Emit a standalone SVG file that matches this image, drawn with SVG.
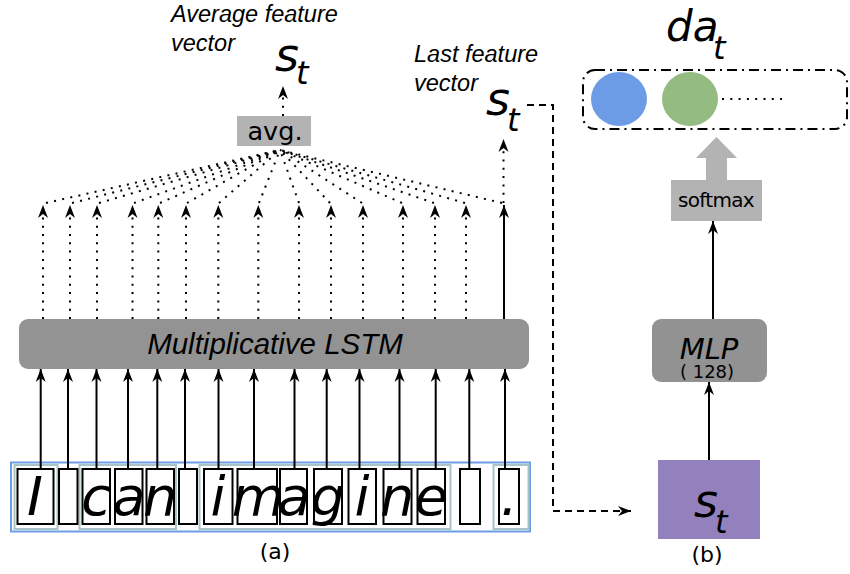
<svg xmlns="http://www.w3.org/2000/svg" width="850" height="574" viewBox="0 0 850 574">
  <style>
    .sans { font-family: "DejaVu Sans", "Noto Sans", sans-serif; }
    .ital { font-family: "Liberation Sans", Arial, sans-serif; font-style: italic; }
    .obl { font-family: "DejaVu Sans", "Noto Sans", sans-serif; font-style: italic; }
    .solid { stroke: #000; stroke-width: 2; fill: none; }
    .dot { stroke: #000; stroke-width: 2; fill: none; stroke-dasharray: 2 6.3; }
    .dash { stroke: #000; stroke-width: 2; fill: none; stroke-dasharray: 7 5; }
    .cell { fill: #fff; stroke: #000; stroke-width: 2; }
    .grp { fill: none; stroke: #a9c4c6; stroke-width: 2; }
    .letter { font-size: 54px; text-anchor: middle; }
  </style>
  <defs>
    <marker id="arr" markerUnits="userSpaceOnUse" markerWidth="16" markerHeight="12" viewBox="-14 -6 16 12" refX="0" refY="0" orient="auto">
      <path d="M0,0 L-13,-5 L-9,0 L-13,5 Z" fill="#000"/>
    </marker>
  </defs>

  <!-- character input strip -->
  <g id="input-text">
    <rect x="11" y="462.5" width="519" height="69" fill="none" stroke="#6d9de6" stroke-width="2"/>
    <rect class="grp" x="14.5" y="465" width="43" height="64"/>
    <rect class="grp" x="79.5" y="465" width="96.5" height="64"/>
    <rect class="grp" x="199.5" y="465" width="251" height="64"/>
    <rect class="grp" x="493.5" y="465" width="35" height="64"/>
    <rect class="cell" x="17.5" y="469" width="36" height="55"/>
    <rect class="cell" x="59" y="469" width="18.5" height="55"/>
    <rect class="cell" x="82.5" y="469" width="27.5" height="55"/>
    <rect class="cell" x="115" y="469" width="27.5" height="55"/>
    <rect class="cell" x="146.5" y="469" width="27.5" height="55"/>
    <rect class="cell" x="179" y="469" width="18" height="55"/>
    <rect class="cell" x="204" y="469" width="28.5" height="55"/>
    <rect class="cell" x="237.5" y="469" width="39.5" height="55"/>
    <rect class="cell" x="280" y="469" width="27" height="55"/>
    <rect class="cell" x="314" y="469" width="28" height="55"/>
    <rect class="cell" x="348.5" y="469" width="27.5" height="55"/>
    <rect class="cell" x="383.5" y="469" width="28" height="55"/>
    <rect class="cell" x="417.5" y="469" width="27.5" height="55"/>
    <rect class="cell" x="460" y="469" width="20" height="55"/>
    <rect class="cell" x="499" y="469" width="20" height="55"/>
    <g class="obl letter">
      <text x="35" y="515">I</text>
      <text x="96" y="515">c</text>
      <text x="129" y="515">a</text>
      <text x="160" y="515">n</text>
      <text x="218" y="515">i</text>
      <text x="258" y="515">m</text>
      <text x="294" y="515">a</text>
      <text x="328" y="515">g</text>
      <text x="362" y="515">i</text>
      <text x="397" y="515">n</text>
      <text x="431" y="515">e</text>
      <text x="509" y="515">.</text>
    </g>
    <text class="sans" x="275" y="559" font-size="22" text-anchor="middle">(a)</text>
  </g>

  <!-- recurrent encoder -->
  <g id="lstm">
    <rect x="19" y="319" width="510" height="50" rx="9" fill="#939393"/>
    <text class="ital" x="275" y="354" font-size="29.5" text-anchor="middle">Multiplicative LSTM</text>
  </g>

  <!-- pooled output -->
  <g id="avg">
    <rect x="237" y="116" width="74" height="30" fill="#b3b3b3"/>
    <text class="sans" x="275" y="140" font-size="25.5" text-anchor="middle">avg.</text>
  </g>
  <g id="avg-label">
    <text class="ital" x="171" y="22" font-size="23.5">Average feature</text>
    <text class="ital" x="171" y="51" font-size="23.5">vector</text>
    <text class="obl" x="275" y="71" font-size="46">s</text>
    <text class="obl" x="296" y="84" font-size="32">t</text>
  </g>
  <g id="last-label">
    <text class="ital" x="414" y="62" font-size="23.5">Last feature</text>
    <text class="ital" x="414" y="91" font-size="23.5">vector</text>
    <text class="obl" x="486" y="115" font-size="46">s</text>
    <text class="obl" x="507" y="131" font-size="32">t</text>
  </g>

  <!-- classifier branch -->
  <g id="state">
    <rect x="658" y="460" width="102" height="79" fill="#9381bd"/>
    <text class="obl" x="694" y="517" font-size="46">s</text>
    <text class="obl" x="715" y="533" font-size="32">t</text>
    <text class="sans" x="707" y="562" font-size="22" text-anchor="middle">(b)</text>
  </g>
  <g id="mlp">
    <rect x="652" y="319" width="115" height="63" rx="9" fill="#929292"/>
    <text class="obl" x="709" y="359" font-size="29" text-anchor="middle">MLP</text>
    <text class="sans" x="707" y="378" font-size="18" text-anchor="middle">( 128)</text>
  </g>
  <g id="softmax">
    <rect x="671" y="180" width="91" height="41" fill="#b3b3b3"/>
    <text class="sans" x="716" y="207" font-size="20" letter-spacing="-0.7" text-anchor="middle">softmax</text>
  </g>
  <g id="output">
    <text class="obl" x="666" y="41" font-size="42">da</text>
    <text class="obl" x="713" y="59" font-size="32">t</text>
    <rect x="583" y="70" width="264" height="59" rx="12" fill="none" stroke="#000" stroke-width="2" stroke-dasharray="10 5 2 5"/>
    <ellipse cx="619" cy="99" rx="28" ry="27" fill="#6d9ce6"/>
    <ellipse cx="690" cy="99" rx="28" ry="27" fill="#93bb82"/>
    <line class="dot" x1="722" y1="99" x2="782" y2="99" stroke-width="1.6" stroke-dasharray="1.6 7"/>
  </g>

  <!-- connectors -->
  <g id="connectors">
    <!-- characters into the LSTM -->
    <g class="solid" marker-end="url(#arr)">
      <line x1="40.7" y1="469" x2="40.7" y2="369"/>
      <line x1="68" y1="469" x2="68" y2="369"/>
      <line x1="96.5" y1="469" x2="96.5" y2="369"/>
      <line x1="128" y1="469" x2="128" y2="369"/>
      <line x1="157.3" y1="469" x2="157.3" y2="369"/>
      <line x1="185" y1="469" x2="185" y2="369"/>
      <line x1="218.5" y1="469" x2="218.5" y2="369"/>
      <line x1="254" y1="469" x2="254" y2="369"/>
      <line x1="294.5" y1="469" x2="294.5" y2="369"/>
      <line x1="326.7" y1="469" x2="326.7" y2="369"/>
      <line x1="359.5" y1="469" x2="359.5" y2="369"/>
      <line x1="399.5" y1="469" x2="399.5" y2="369"/>
      <line x1="435.7" y1="469" x2="435.7" y2="369"/>
      <line x1="469.3" y1="469" x2="469.3" y2="369"/>
      <line x1="505" y1="469" x2="505" y2="369"/>
    </g>
    <!-- hidden states out of the LSTM -->
    <g class="dot" marker-end="url(#arr)">
      <line x1="43" y1="319" x2="43" y2="205"/>
      <line x1="70" y1="319" x2="70" y2="205"/>
      <line x1="97" y1="319" x2="97" y2="205"/>
      <line x1="132.5" y1="319" x2="132.5" y2="205"/>
      <line x1="158.3" y1="319" x2="158.3" y2="205"/>
      <line x1="186" y1="319" x2="186" y2="205"/>
      <line x1="218.3" y1="319" x2="218.3" y2="205"/>
      <line x1="258.3" y1="319" x2="258.3" y2="205"/>
      <line x1="299" y1="319" x2="299" y2="205"/>
      <line x1="331" y1="319" x2="331" y2="205"/>
      <line x1="363" y1="319" x2="363" y2="205"/>
      <line x1="403" y1="319" x2="403" y2="205"/>
      <line x1="435" y1="319" x2="435" y2="205"/>
      <line x1="466" y1="319" x2="466" y2="205"/>
    </g>
    <line class="solid" x1="504" y1="319" x2="504" y2="205" marker-end="url(#arr)"/>
    <!-- fan-in to the average -->
    <g class="dot">
      <line x1="46" y1="203" x2="280" y2="150"/>
      <line x1="72" y1="203" x2="280" y2="150"/>
      <line x1="99" y1="203" x2="280" y2="150"/>
      <line x1="134" y1="203" x2="280" y2="150"/>
      <line x1="160" y1="203" x2="280" y2="150"/>
      <line x1="187" y1="203" x2="280" y2="150"/>
      <line x1="219" y1="203" x2="280" y2="150"/>
      <line x1="259" y1="203" x2="280" y2="150"/>
      <line x1="299" y1="203" x2="280" y2="150"/>
      <line x1="330" y1="203" x2="280" y2="150"/>
      <line x1="362" y1="203" x2="280" y2="150"/>
      <line x1="402" y1="203" x2="280" y2="150"/>
      <line x1="434" y1="203" x2="280" y2="150"/>
      <line x1="465" y1="203" x2="280" y2="150"/>
      <line x1="502" y1="203" x2="280" y2="150"/>
    </g>
    <line class="dot" x1="283" y1="116" x2="283" y2="86" marker-end="url(#arr)"/>
    <line class="dot" x1="503.5" y1="203" x2="503.5" y2="139" marker-end="url(#arr)"/>
    <!-- last state handed to the classifier -->
    <path class="dash" d="M527,105 H553 V511 H631" marker-end="url(#arr)"/>
    <line class="solid" x1="709" y1="460" x2="709" y2="382" marker-end="url(#arr)"/>
    <line class="solid" x1="713" y1="319" x2="713" y2="221" marker-end="url(#arr)"/>
    <polygon points="706,180 706,158 696,158 716.5,137 737,158 727,158 727,180" fill="#b3b3b3"/>
  </g>
</svg>
